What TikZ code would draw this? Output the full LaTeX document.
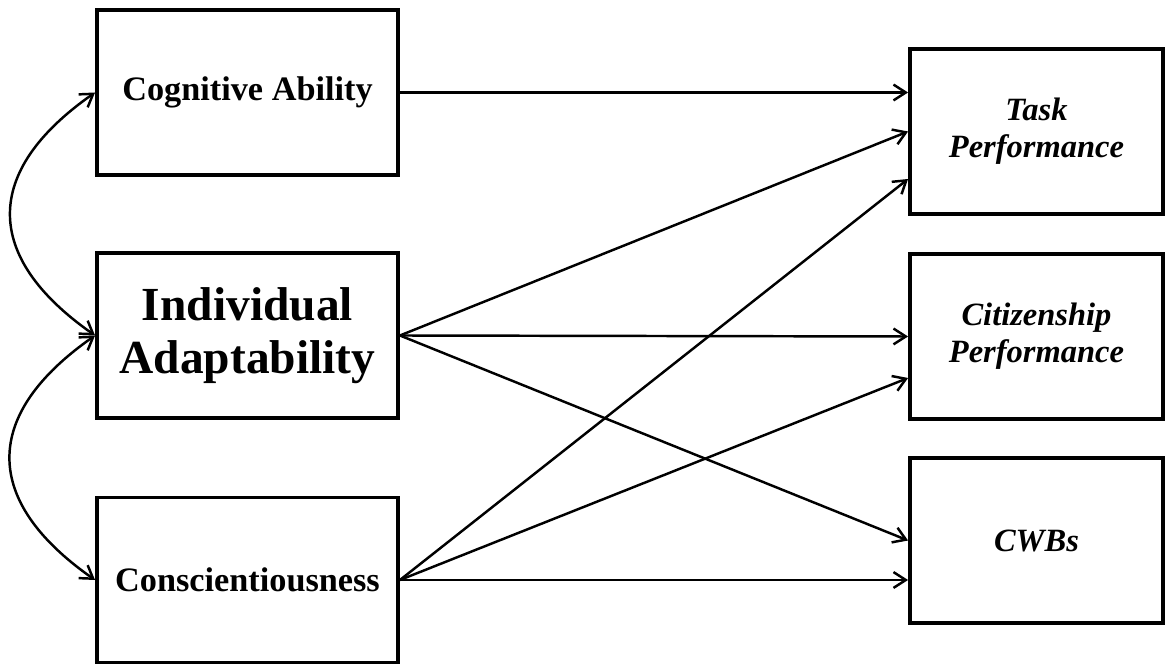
\documentclass[tikz,border=0pt]{standalone}
\usepackage{fontspec}
\setmainfont{Liberation Serif}
\usetikzlibrary{arrows.meta}

\begin{document}
\begin{tikzpicture}[
    predbox/.style={draw, line width=2.2pt, minimum width=6.02cm, minimum height=3.3cm, align=center, inner sep=0pt, font=\bfseries\fontsize{19.5}{22}\selectfont},
    outbox/.style={draw, line width=2.2pt, minimum width=5.06cm, minimum height=3.3cm, align=center, inner sep=0pt, font=\bfseries\itshape\fontsize{18.5}{21}\selectfont},
    flow/.style={-{Straight Barb[length=7pt,width=9pt]}, line width=1.4pt},
    covar/.style={{Straight Barb[length=7pt,width=9pt]}-{Straight Barb[length=7pt,width=9pt]}, line width=1.4pt}
  ]
    \useasboundingbox (0,0) rectangle (23.3,13.28);

    % predictors
    \node[predbox] (cog) at (4.95,11.43) {Cognitive Ability};
    \node[predbox, font=\bfseries\fontsize{27}{30}\selectfont] (ind) at (4.95,6.57) {Individual\\Adaptability};
    \node[predbox] (con) at (4.95,1.68) {Conscientiousness};

    % outcomes
    \node[outbox] (task) at (20.73,10.65) {Task\\Performance};
    \node[outbox] (cit) at (20.73,6.55) {Citizenship\\Performance};
    \node[outbox] (cwb) at (20.73,2.47) {CWBs};

    \draw[covar] (cog.west) to[out=215, in=145, looseness=1.45] (ind.west);
    \draw[covar] (ind.west) to[out=215, in=145, looseness=1.45] (con.west);

    \draw[flow] (cog.east) -- (cog.east -| task.west);
    \draw[flow] (ind.east) -- (task.west);
    \draw[flow] (ind.east) -- (cit.west);
    \draw[flow] (ind.east) -- (cwb.west);
    \draw[flow] (con.east) -- ([yshift=-0.95cm]task.west);
    \draw[flow] (con.east) -- ([yshift=-0.83cm]cit.west);
    \draw[flow] (con.east) -- (con.east -| cwb.west);
  \end{tikzpicture}
\end{document}
